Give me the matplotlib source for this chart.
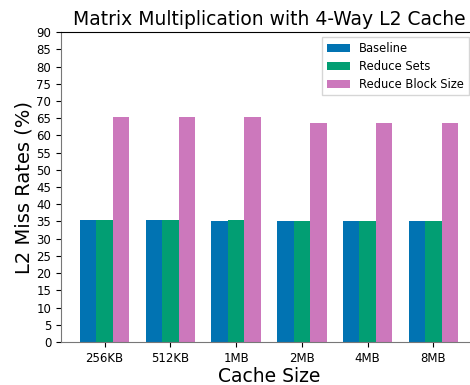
import numpy as np
import matplotlib
matplotlib.use("Agg")
import matplotlib.pyplot as plt

# cache sizes and miss rates
cache_sizes = ["256KB", "512KB", "1MB", "2MB", "4MB", "8MB"]
baseline = [35.5, 35.5, 35.0, 35.0, 35.0, 35.0]
reduce_sets = [35.5, 35.5, 35.5, 35.0, 35.0, 35.0]
reduce_block = [65.2, 65.2, 65.2, 63.5, 63.5, 63.5]

colors = ["#0173b2", "#029e73", "#cc78bc"]

fig = plt.figure(figsize=(4.7, 3.85), dpi=100)
# the original is cropped on the right, so the axes run past the figure edge
ax = fig.add_axes([0.1298, 0.1117, 0.885, 0.805])

x = np.arange(len(cache_sizes))
w = 0.25
ax.bar(x - w, baseline, w, color=colors[0], label="Baseline")
ax.bar(x, reduce_sets, w, color=colors[1], label="Reduce Sets")
ax.bar(x + w, reduce_block, w, color=colors[2], label="Reduce Block Size")

ax.set_ylim(0, 90)
ax.set_yticks(range(0, 91, 5))
ax.set_xticks(x)
ax.set_xticklabels(cache_sizes)
ax.tick_params(labelsize=8.5, length=3.5)

ax.spines["left"].set_color("#777777")
ax.spines["bottom"].set_color("#777777")
ax.spines["right"].set_visible(False)

ax.set_xlabel("Cache Size", fontsize=13.5, labelpad=2)
ax.set_ylabel("L2 Miss Rates (%)", fontsize=14, labelpad=2)
ax.set_title("Matrix Multiplication with 4-Way L2 Cache", fontsize=13.5, pad=5)

fig.legend(loc="upper right", bbox_to_anchor=(0.997, 0.903), fontsize=8.3,
           fancybox=False, borderaxespad=0.0, labelspacing=0.42,
           borderpad=0.4)

fig.savefig("out.png", dpi=100)
